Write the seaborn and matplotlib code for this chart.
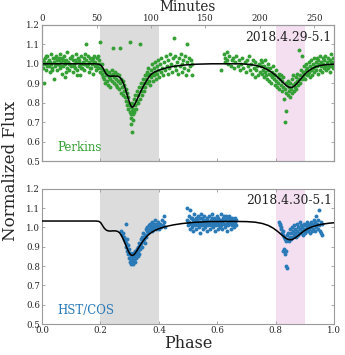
import matplotlib
matplotlib.use("Agg")
import matplotlib.pyplot as plt
import numpy as np
import pandas as pd
import seaborn as sns

# ---------------- data ----------------
period_minutes = 268.0
minute_ticks = [0, 50, 100, 150, 200, 250]
phase_ticks = [0.0, 0.2, 0.4, 0.6, 0.8, 1.0]
flux_ticks = [0.5, 0.6, 0.7, 0.8, 0.9, 1.0, 1.1, 1.2]
primary_band = (0.2, 0.4)
secondary_band = (0.8, 0.9)
perkins_date = "2018.4.29-5.1"
cos_date = "2018.4.30-5.1"

# Perkins photometry (phase, normalized flux)
perkins_pre = [
    (0.002, 1.02), (0.004, 0.98), (0.006, 1.01), (0.008, 0.90), (0.010, 1.03), (0.013, 1.00),
    (0.015, 0.97), (0.017, 1.04), (0.020, 1.01), (0.022, 0.99), (0.025, 1.02), (0.027, 0.96),
    (0.030, 1.05), (0.032, 1.00), (0.035, 0.98), (0.037, 1.03), (0.040, 0.92), (0.042, 1.01),
    (0.045, 0.99), (0.047, 1.04), (0.050, 1.02), (0.052, 0.97), (0.055, 1.00), (0.057, 1.03),
    (0.060, 0.98), (0.062, 1.05), (0.065, 1.01), (0.067, 0.95), (0.070, 1.02), (0.072, 0.99),
    (0.075, 1.04), (0.077, 1.00), (0.080, 0.93), (0.082, 1.02), (0.085, 0.98), (0.087, 1.06),
    (0.090, 1.01), (0.092, 0.97), (0.095, 1.03), (0.097, 1.00), (0.100, 0.99), (0.102, 1.04),
    (0.105, 0.96), (0.107, 1.02), (0.110, 1.00), (0.112, 0.98), (0.115, 1.05), (0.117, 1.01),
    (0.120, 0.97), (0.122, 1.03), (0.125, 0.99), (0.127, 1.02), (0.130, 0.94), (0.132, 1.00),
    (0.135, 1.04), (0.137, 0.98), (0.140, 1.01), (0.142, 1.03), (0.145, 0.97), (0.147, 1.00),
    (0.150, 1.10), (0.152, 1.02), (0.155, 0.99), (0.157, 1.04), (0.160, 0.96), (0.162, 1.01),
    (0.165, 1.03), (0.167, 0.98), (0.170, 1.00), (0.172, 1.02), (0.175, 0.95), (0.177, 1.04),
    (0.180, 0.99), (0.182, 1.01), (0.185, 0.97), (0.187, 1.03), (0.190, 1.00), (0.192, 0.98),
    (0.195, 1.02), (0.197, 0.96),
    (0.003, 1.00), (0.012, 1.04), (0.018, 0.99), (0.028, 1.01), (0.033, 0.97), (0.043, 1.03),
    (0.048, 1.00), (0.058, 1.02), (0.063, 0.99), (0.068, 1.03), (0.078, 1.01), (0.083, 0.96),
    (0.093, 1.00), (0.098, 1.03), (0.108, 0.99), (0.113, 1.02), (0.118, 0.94), (0.128, 1.01),
    (0.133, 0.98), (0.143, 1.00), (0.148, 1.05), (0.158, 1.00), (0.163, 0.98), (0.173, 1.03),
    (0.178, 1.01), (0.188, 0.99), (0.193, 1.04), (0.198, 1.00),
]
perkins_primary = [
    (0.200, 1.11), (0.202, 0.98), (0.204, 0.95), (0.206, 1.00), (0.208, 0.93), (0.210, 0.97),
    (0.212, 0.92), (0.214, 0.96), (0.216, 0.90), (0.218, 0.94), (0.220, 0.97), (0.222, 0.91),
    (0.224, 0.95), (0.226, 0.89), (0.228, 0.93), (0.230, 0.96), (0.232, 0.92), (0.234, 0.88),
    (0.236, 0.94), (0.238, 0.97), (0.240, 0.91), (0.242, 0.95), (0.244, 1.08), (0.246, 0.90),
    (0.248, 0.93), (0.250, 0.96), (0.252, 0.89), (0.254, 0.92), (0.256, 0.95), (0.258, 0.88),
    (0.260, 0.91), (0.262, 0.94), (0.264, 0.87), (0.266, 1.08), (0.268, 0.90), (0.270, 0.85),
    (0.272, 0.92), (0.274, 0.88), (0.276, 0.84), (0.278, 0.91), (0.280, 0.86), (0.282, 0.89),
    (0.284, 0.83), (0.286, 0.87), (0.288, 0.81), (0.290, 0.85), (0.292, 0.79), (0.294, 0.83),
    (0.296, 0.77), (0.298, 0.80), (0.300, 1.11), (0.301, 0.75), (0.302, 0.79), (0.303, 0.69),
    (0.304, 0.74), (0.305, 0.78), (0.306, 0.72), (0.307, 0.76), (0.308, 0.65), (0.309, 0.80),
    (0.310, 0.74), (0.312, 0.77), (0.313, 0.71), (0.314, 0.82), (0.316, 0.75), (0.318, 0.79),
    (0.320, 0.84), (0.322, 0.77), (0.324, 0.81), (0.326, 0.86), (0.328, 0.80), (0.330, 0.84),
    (0.332, 0.88), (0.334, 0.82), (0.336, 1.10), (0.338, 0.86), (0.340, 0.90), (0.342, 0.84),
    (0.344, 0.88), (0.346, 0.92), (0.348, 0.86), (0.350, 0.90), (0.352, 0.94), (0.354, 0.88),
    (0.356, 0.92), (0.358, 0.96), (0.360, 0.90), (0.362, 0.94), (0.364, 0.98), (0.366, 0.91),
    (0.368, 0.95), (0.370, 0.89), (0.372, 0.97), (0.374, 0.93), (0.376, 1.00), (0.378, 0.95),
    (0.380, 0.91), (0.382, 0.98), (0.384, 0.94), (0.386, 1.01), (0.388, 0.96), (0.390, 0.92),
    (0.392, 0.99), (0.394, 0.95), (0.396, 1.02), (0.398, 0.97), (0.400, 0.93), (0.403, 1.00),
    (0.406, 0.96), (0.409, 1.03), (0.412, 0.98), (0.415, 0.94), (0.418, 1.01), (0.421, 0.97),
    (0.424, 1.04), (0.427, 0.99), (0.430, 0.95), (0.433, 1.02), (0.436, 0.98), (0.439, 1.05),
    (0.442, 1.00), (0.445, 0.96), (0.448, 1.03), (0.451, 1.13), (0.454, 0.99), (0.457, 1.04),
    (0.460, 0.97), (0.463, 1.01), (0.466, 0.95), (0.469, 1.03), (0.472, 0.99), (0.475, 1.05),
    (0.478, 1.00), (0.481, 0.96), (0.484, 1.02), (0.487, 0.98), (0.490, 1.04), (0.493, 0.94),
    (0.495, 1.10), (0.497, 1.01), (0.500, 0.97), (0.503, 1.03), (0.506, 0.99), (0.509, 1.02),
    (0.512, 0.94), (0.515, 1.00),
]
perkins_mid = [
    (0.612, 0.97), (0.622, 1.05), (0.625, 1.03), (0.628, 1.01), (0.632, 1.06), (0.635, 1.02),
    (0.638, 1.00), (0.642, 1.04), (0.646, 0.99), (0.650, 1.02), (0.654, 1.03), (0.658, 0.98),
    (0.662, 1.01), (0.666, 1.04), (0.670, 0.99), (0.674, 1.02), (0.678, 0.97), (0.682, 1.00),
    (0.686, 1.03), (0.690, 0.98), (0.694, 1.01), (0.698, 0.96), (0.702, 1.02), (0.706, 0.99),
    (0.710, 1.04), (0.713, 0.97), (0.716, 1.00), (0.719, 0.95), (0.722, 1.02), (0.725, 0.98),
    (0.728, 0.93), (0.731, 1.01), (0.734, 0.97), (0.737, 0.99), (0.740, 0.94), (0.743, 1.00),
    (0.746, 0.96), (0.749, 1.02),
]
perkins_secondary = [
    (0.751, 0.99), (0.753, 0.95), (0.755, 1.01), (0.757, 0.97), (0.759, 0.93), (0.761, 0.99),
    (0.763, 0.96), (0.765, 1.02), (0.767, 0.94), (0.769, 0.98), (0.771, 0.92), (0.773, 0.97),
    (0.775, 1.00), (0.777, 0.95), (0.779, 0.91), (0.781, 0.98), (0.783, 0.94), (0.785, 0.90),
    (0.787, 0.96), (0.789, 0.93), (0.791, 0.99), (0.793, 0.92), (0.795, 0.95), (0.797, 0.89),
    (0.799, 0.94), (0.801, 0.91), (0.803, 0.97), (0.805, 0.88), (0.807, 0.93), (0.809, 0.90),
    (0.811, 0.95), (0.813, 0.87), (0.815, 0.92), (0.817, 0.89), (0.819, 0.94), (0.821, 0.86),
    (0.823, 0.91), (0.825, 0.88), (0.827, 0.93), (0.829, 0.82), (0.831, 0.87), (0.833, 0.70),
    (0.834, 0.90), (0.836, 0.76), (0.837, 0.85), (0.839, 0.89), (0.841, 0.84), (0.843, 0.91),
    (0.845, 0.86), (0.847, 0.88), (0.849, 0.83), (0.851, 0.90), (0.853, 0.87), (0.855, 0.92),
    (0.857, 0.85), (0.859, 0.89), (0.861, 0.94), (0.863, 0.86), (0.865, 0.90), (0.867, 0.88),
    (0.869, 0.93), (0.871, 0.87), (0.873, 0.91), (0.875, 0.95), (0.877, 0.89), (0.879, 0.92),
    (0.881, 1.07), (0.883, 0.90), (0.885, 0.94), (0.887, 0.97), (0.889, 1.04), (0.891, 0.92),
    (0.893, 0.96), (0.895, 0.93), (0.897, 0.99), (0.899, 0.95), (0.901, 0.92), (0.903, 0.97),
    (0.905, 1.00), (0.907, 0.94), (0.909, 0.98), (0.911, 0.95), (0.913, 1.01), (0.915, 0.96),
    (0.917, 0.93), (0.919, 0.99), (0.921, 1.02), (0.923, 0.97), (0.925, 0.94), (0.927, 1.00),
    (0.929, 0.98), (0.931, 1.03), (0.933, 0.96), (0.935, 0.99), (0.937, 1.01), (0.939, 0.97),
    (0.941, 1.03), (0.943, 0.99), (0.945, 0.95), (0.947, 1.02), (0.949, 1.00), (0.951, 0.97),
    (0.953, 1.04), (0.955, 0.99), (0.957, 1.01), (0.959, 0.96), (0.961, 1.03), (0.963, 1.00),
    (0.965, 0.98), (0.967, 1.02), (0.969, 0.99), (0.971, 1.04), (0.973, 0.97), (0.975, 1.01),
    (0.977, 1.00), (0.979, 0.98), (0.981, 1.03), (0.983, 0.99), (0.985, 1.02), (0.987, 0.96),
    (0.989, 1.01), (0.991, 1.05), (0.993, 0.99), (0.995, 1.03), (0.997, 0.98), (0.999, 1.01),
]

# HST/COS light curve (phase, normalized flux)
cos_primary = [
    (0.272, 0.98), (0.275, 0.96), (0.278, 0.97), (0.280, 0.94), (0.282, 0.95), (0.284, 0.93),
    (0.286, 1.02), (0.287, 0.92), (0.289, 0.90), (0.291, 0.94), (0.292, 0.88), (0.294, 0.91),
    (0.295, 0.86), (0.297, 0.89), (0.298, 0.84), (0.300, 0.87), (0.301, 0.82), (0.303, 0.85),
    (0.304, 0.83), (0.306, 0.81), (0.307, 0.86), (0.309, 0.84), (0.310, 0.82), (0.312, 0.87),
    (0.313, 0.81), (0.315, 0.85), (0.316, 0.83), (0.318, 0.88), (0.319, 0.82), (0.321, 0.86),
    (0.322, 0.84), (0.324, 0.89), (0.325, 0.87), (0.327, 0.85), (0.328, 0.90), (0.330, 0.88),
    (0.332, 0.92), (0.333, 0.86), (0.335, 0.91), (0.337, 0.89), (0.338, 0.94), (0.340, 0.92),
    (0.342, 0.90), (0.343, 0.95), (0.345, 0.93), (0.347, 0.97), (0.349, 0.94), (0.351, 0.92),
    (0.353, 0.96), (0.355, 0.99), (0.357, 0.95), (0.359, 0.98), (0.361, 1.00), (0.363, 0.97),
    (0.365, 1.01), (0.367, 0.98), (0.369, 1.02), (0.371, 0.99), (0.373, 1.00), (0.375, 1.03),
    (0.377, 0.98), (0.379, 1.01), (0.381, 0.99), (0.383, 1.02), (0.385, 1.00), (0.387, 1.04),
    (0.389, 1.01), (0.391, 0.99), (0.393, 1.02), (0.395, 1.00), (0.397, 1.03), (0.399, 1.01),
    (0.402, 0.99), (0.405, 1.02), (0.408, 1.00), (0.411, 1.04), (0.414, 1.01), (0.417, 1.06),
    (0.419, 1.03), (0.422, 1.00),
]
cos_quadrature = [
    (0.495, 1.10), (0.498, 1.04), (0.500, 1.01), (0.502, 1.06), (0.504, 1.03), (0.506, 0.99),
    (0.508, 1.09), (0.510, 1.02), (0.512, 1.05), (0.514, 1.00), (0.516, 1.04), (0.518, 0.98),
    (0.520, 1.07), (0.522, 1.03), (0.524, 1.01), (0.526, 1.05), (0.528, 0.99), (0.530, 1.04),
    (0.532, 1.02), (0.534, 1.06), (0.536, 1.00), (0.538, 1.03), (0.540, 0.97), (0.542, 1.05),
    (0.544, 1.02), (0.546, 1.07), (0.548, 1.01), (0.550, 1.04), (0.552, 0.99), (0.554, 1.03),
    (0.556, 1.06), (0.558, 1.00), (0.560, 1.04), (0.562, 1.02), (0.564, 0.98), (0.566, 1.05),
    (0.568, 1.03), (0.570, 1.01), (0.572, 1.06), (0.574, 1.02), (0.576, 0.99), (0.578, 1.04),
    (0.580, 1.01), (0.582, 1.07), (0.584, 1.03), (0.586, 1.00), (0.588, 1.05), (0.590, 1.02),
    (0.592, 0.98), (0.594, 1.04), (0.596, 1.01), (0.598, 1.06), (0.600, 1.03), (0.602, 0.99),
    (0.604, 1.05), (0.606, 1.02), (0.608, 1.00), (0.610, 1.04), (0.612, 1.07), (0.614, 1.01),
    (0.616, 1.03), (0.618, 0.99), (0.620, 1.05), (0.622, 1.02), (0.624, 1.06), (0.626, 1.00),
    (0.628, 1.04), (0.630, 1.02), (0.632, 0.98), (0.634, 1.05), (0.636, 1.03), (0.638, 1.01),
    (0.640, 1.06), (0.642, 1.02), (0.644, 1.04), (0.646, 0.99), (0.648, 1.03), (0.650, 1.05),
    (0.652, 1.01), (0.654, 1.04), (0.656, 1.02), (0.658, 1.00), (0.660, 1.05), (0.662, 1.03),
    (0.664, 1.01), (0.666, 1.04),
    (0.501, 1.03), (0.509, 1.05), (0.517, 1.02), (0.525, 1.04), (0.533, 1.01), (0.541, 1.03),
    (0.549, 1.05), (0.557, 1.02), (0.565, 1.04), (0.573, 1.03), (0.581, 1.05), (0.589, 1.02),
    (0.597, 1.04), (0.605, 1.01), (0.613, 1.03), (0.621, 1.04), (0.629, 1.06), (0.637, 1.03),
    (0.645, 1.05), (0.653, 1.02), (0.661, 1.04),
]
cos_secondary = [
    (0.812, 1.03), (0.814, 1.01), (0.816, 1.02), (0.818, 0.99), (0.820, 1.00), (0.822, 0.97),
    (0.824, 0.98), (0.825, 0.88), (0.827, 0.96), (0.828, 0.89), (0.830, 0.95), (0.831, 0.86),
    (0.833, 0.94), (0.834, 0.88), (0.836, 0.80), (0.837, 0.93), (0.838, 0.79), (0.840, 0.96),
    (0.842, 0.94), (0.844, 0.97), (0.846, 0.93), (0.848, 0.95), (0.850, 0.99), (0.852, 0.94),
    (0.854, 0.97), (0.856, 1.00), (0.858, 0.95), (0.860, 0.98), (0.862, 0.96), (0.864, 1.01),
    (0.866, 0.97), (0.868, 0.99), (0.870, 0.95), (0.872, 1.02), (0.874, 0.98), (0.876, 0.96),
    (0.878, 1.00), (0.880, 0.97), (0.882, 1.03), (0.884, 0.99), (0.886, 0.97), (0.888, 1.01),
    (0.890, 0.98), (0.892, 1.00), (0.894, 0.96), (0.896, 1.02), (0.898, 0.99), (0.900, 0.97),
    (0.902, 1.01), (0.904, 0.98), (0.906, 1.03), (0.908, 1.00), (0.910, 0.98), (0.912, 1.02),
    (0.914, 0.99), (0.916, 1.01), (0.918, 0.97), (0.920, 1.03), (0.922, 1.00), (0.924, 0.98),
    (0.926, 1.02), (0.928, 0.99), (0.930, 1.04), (0.932, 1.01), (0.934, 0.98), (0.936, 1.03),
    (0.938, 1.06), (0.940, 1.00), (0.942, 1.02), (0.944, 0.99), (0.946, 1.04), (0.948, 1.09),
    (0.950, 1.01), (0.952, 0.98), (0.954, 1.03), (0.956, 0.97), (0.958, 1.02), (0.960, 0.96),
]

# eclipse models (phase, flux)
perkins_model = [
    (0.000, 1.000), (0.180, 1.000), (0.195, 0.998), (0.202, 0.992), (0.208, 0.980),
    (0.214, 0.962), (0.220, 0.947), (0.226, 0.939), (0.234, 0.936), (0.242, 0.937),
    (0.250, 0.937), (0.258, 0.936), (0.265, 0.932), (0.272, 0.920), (0.278, 0.902),
    (0.284, 0.878), (0.290, 0.848), (0.296, 0.818), (0.301, 0.795), (0.305, 0.782),
    (0.309, 0.777), (0.313, 0.781), (0.318, 0.794), (0.324, 0.813), (0.331, 0.835),
    (0.338, 0.858), (0.346, 0.882), (0.355, 0.906), (0.364, 0.928), (0.373, 0.945),
    (0.383, 0.956), (0.395, 0.964), (0.410, 0.972), (0.430, 0.981), (0.455, 0.988),
    (0.490, 0.994), (0.530, 0.998), (0.580, 1.000), (0.680, 1.000), (0.710, 0.997),
    (0.735, 0.991), (0.755, 0.982), (0.772, 0.970), (0.788, 0.955), (0.802, 0.938),
    (0.815, 0.920), (0.826, 0.903), (0.836, 0.889), (0.844, 0.881), (0.851, 0.878),
    (0.858, 0.880), (0.866, 0.888), (0.875, 0.902), (0.885, 0.920), (0.896, 0.940),
    (0.908, 0.958), (0.922, 0.973), (0.938, 0.985), (0.955, 0.992), (0.975, 0.996),
    (1.000, 0.998),
]
cos_model = [
    (0.000, 1.033), (0.185, 1.033), (0.195, 1.031), (0.201, 1.024), (0.207, 1.010),
    (0.213, 0.996), (0.219, 0.987), (0.226, 0.982), (0.234, 0.981), (0.242, 0.982),
    (0.250, 0.982), (0.258, 0.980), (0.265, 0.973), (0.272, 0.958), (0.279, 0.936),
    (0.286, 0.911), (0.293, 0.885), (0.299, 0.867), (0.304, 0.858), (0.309, 0.855),
    (0.314, 0.858), (0.320, 0.868), (0.327, 0.885), (0.335, 0.905), (0.344, 0.926),
    (0.354, 0.946), (0.365, 0.963), (0.377, 0.976), (0.390, 0.987), (0.405, 0.996),
    (0.425, 1.005), (0.450, 1.013), (0.480, 1.020), (0.520, 1.026), (0.570, 1.030),
    (0.650, 1.031), (0.700, 1.030), (0.730, 1.027), (0.755, 1.020), (0.775, 1.010),
    (0.792, 0.996), (0.808, 0.978), (0.822, 0.960), (0.834, 0.945), (0.843, 0.938),
    (0.850, 0.936), (0.858, 0.938), (0.868, 0.947), (0.880, 0.961), (0.893, 0.977),
    (0.908, 0.992), (0.925, 1.003), (0.945, 1.012), (0.965, 1.018), (0.985, 1.022),
    (1.000, 1.024),
]

# ---------------- style ----------------
sns.set_style("white")
plt.rcParams["font.family"] = ["DejaVu Serif"]
plt.rcParams["axes.edgecolor"] = "#9a9a9a"
plt.rcParams["axes.linewidth"] = 0.8

GREEN = "#35a035"
BLUE = "#2a7ab8"
GRAY_BAND = "#dcdcdc"
PINK_BAND = "#f4dff1"
TICK_FS = 6.2

fig = plt.figure(figsize=(3.45, 3.55), dpi=100)
ax_top = fig.add_axes([0.122, 0.546, 0.846, 0.384])
ax_bot = fig.add_axes([0.122, 0.0873, 0.846, 0.381])


def draw_panel(ax, points, model, color, label, date):
    pts = pd.DataFrame(points, columns=["phase", "flux"])
    mdl = pd.DataFrame(model, columns=["phase", "flux"])
    ax.axvspan(*primary_band, color=GRAY_BAND, lw=0, zorder=0)
    ax.axvspan(*secondary_band, color=PINK_BAND, lw=0, zorder=0)
    sns.scatterplot(data=pts, x="phase", y="flux", ax=ax, color=color, s=8,
                    linewidth=0, zorder=2, legend=False)
    sns.lineplot(data=mdl, x="phase", y="flux", ax=ax, color="black", lw=1.1,
                 sort=False, estimator=None, zorder=3)
    ax.set_xlim(0, 1)
    ax.set_ylim(0.5, 1.2)
    ax.set_yticks(flux_ticks)
    ax.set_yticklabels([f"{v:.1f}" for v in flux_ticks])
    ax.set_xticks(phase_ticks)
    ax.set_ylabel("")
    ax.tick_params(direction="in", length=2.5, width=0.6, color="#9a9a9a",
                   labelsize=TICK_FS, pad=1.5, right=True, top=True,
                   left=True, bottom=True)
    ax.text(0.052, 0.10, label, transform=ax.transAxes, color=color,
            fontsize=8.5, ha="left", va="center")
    ax.text(0.992, 0.91, date, transform=ax.transAxes, color="#222222",
            fontsize=8.8, ha="right", va="center")


draw_panel(ax_top, perkins_pre + perkins_primary + perkins_mid + perkins_secondary,
           perkins_model, GREEN, "Perkins", perkins_date)
draw_panel(ax_bot, cos_primary + cos_quadrature + cos_secondary,
           cos_model, BLUE, "HST/COS", cos_date)

ax_top.set_xlabel("")
ax_top.tick_params(labelbottom=False)
ax_bot.set_xticklabels([f"{v:.1f}" for v in phase_ticks])
ax_bot.set_xlabel("Phase", fontsize=11.5, labelpad=0)

# time axis on top of the upper panel
ax_min = ax_top.twiny()
ax_min.set_xlim(0, period_minutes)
ax_min.set_xticks(minute_ticks)
ax_min.set_xticklabels([str(v) for v in minute_ticks])
ax_min.tick_params(direction="in", length=2.5, width=0.6, color="#9a9a9a",
                   labelsize=TICK_FS, pad=1.5)
ax_min.set_xlabel("Minutes", fontsize=9.8, labelpad=2)

fig.text(0.03, 0.52, "Normalized Flux", rotation=90, fontsize=12,
         ha="center", va="center")

fig.savefig("out.png", dpi=100)
